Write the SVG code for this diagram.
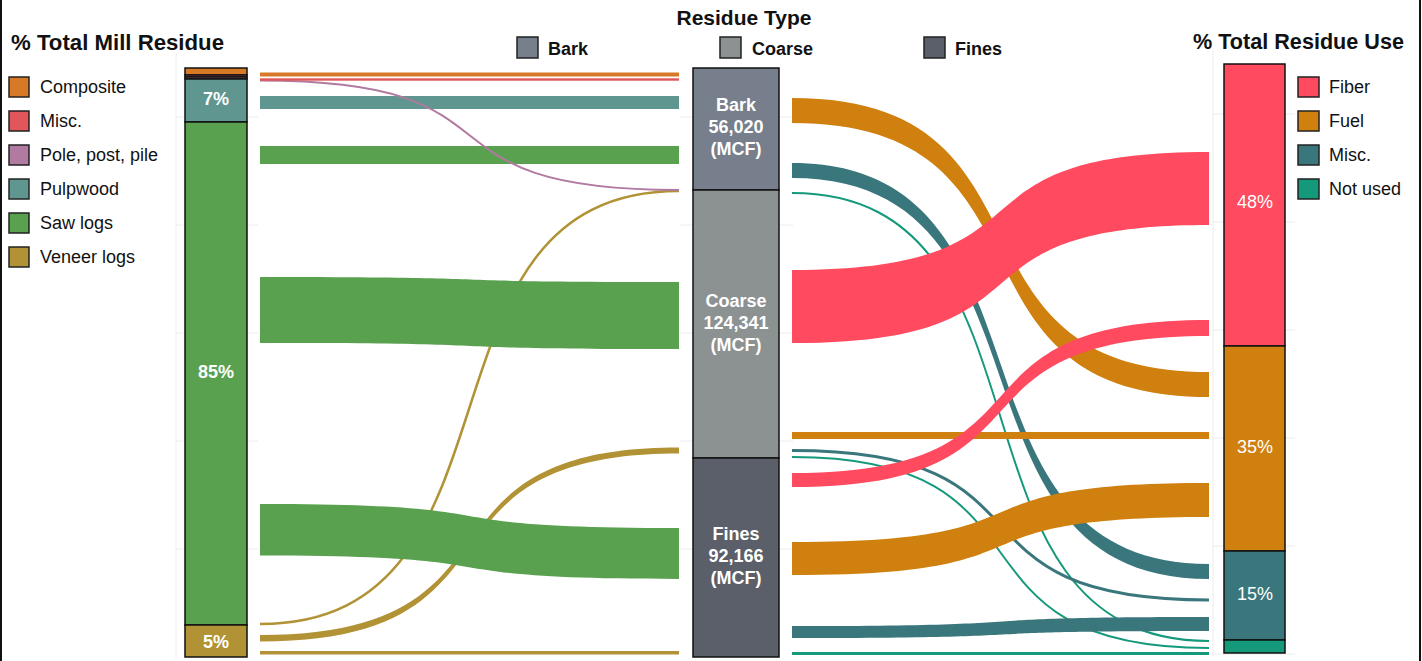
<svg xmlns="http://www.w3.org/2000/svg" width="1422" height="661" viewBox="0 0 1422 661">
<style>
.title{font-family:"Liberation Sans",Arial,sans-serif;font-weight:bold;fill:#111}
.leg{font-family:"Liberation Sans",Arial,sans-serif;font-size:18px;fill:#111}
.legb{font-family:"Liberation Sans",Arial,sans-serif;font-size:18px;font-weight:bold;fill:#111}
.lbl{font-family:"Liberation Sans",Arial,sans-serif;font-size:18px;font-weight:bold;fill:#fff;text-anchor:middle}
.lbln{font-family:"Liberation Sans",Arial,sans-serif;font-size:18px;fill:#fff;text-anchor:middle}
.sw{stroke:#222;stroke-width:1.5}
.seg{stroke:#111;stroke-width:1.5}
.grid{stroke:#ececec;stroke-width:1;fill:none}
.line{fill:none}
</style>
<rect x="0" y="0" width="1422" height="661" fill="#fff"/>
<g id="gridlines">
<line class="grid" x1="176" y1="53" x2="176" y2="658"/>
<line class="grid" x1="176" y1="117" x2="258" y2="117"/>
<line class="grid" x1="176" y1="225" x2="258" y2="225"/>
<line class="grid" x1="176" y1="333" x2="258" y2="333"/>
<line class="grid" x1="176" y1="441" x2="258" y2="441"/>
<line class="grid" x1="176" y1="549" x2="258" y2="549"/>
<line class="grid" x1="680" y1="117" x2="793" y2="117"/>
<line class="grid" x1="680" y1="225" x2="793" y2="225"/>
<line class="grid" x1="680" y1="333" x2="793" y2="333"/>
<line class="grid" x1="680" y1="441" x2="793" y2="441"/>
<line class="grid" x1="680" y1="549" x2="793" y2="549"/>
<line class="grid" x1="1213" y1="50" x2="1213" y2="656"/>
<line class="grid" x1="1213" y1="114" x2="1295" y2="114"/>
<line class="grid" x1="1213" y1="222" x2="1295" y2="222"/>
<line class="grid" x1="1213" y1="330" x2="1295" y2="330"/>
<line class="grid" x1="1213" y1="438" x2="1295" y2="438"/>
<line class="grid" x1="1213" y1="546" x2="1295" y2="546"/>
<line class="grid" x1="1213" y1="654" x2="1295" y2="654"/>
</g>
<g id="frame">
<line x1="1" y1="0" x2="1" y2="661" stroke="#111" stroke-width="2"/>
<line x1="1420" y1="0" x2="1420" y2="661" stroke="#111" stroke-width="2"/>
</g>
<g id="titles">
<text class="title" x="11" y="50" font-size="22" textLength="213" lengthAdjust="spacingAndGlyphs">% Total Mill Residue</text>
<text class="title" x="744" y="25" font-size="21" text-anchor="middle">Residue Type</text>
<text class="title" x="1193" y="49" font-size="21.5" textLength="211" lengthAdjust="spacingAndGlyphs">% Total Residue Use</text>
</g>
<g id="legend-source">
<rect class="sw" x="9" y="77" width="20" height="20" fill="#d77a28"/><text class="leg" x="40" y="93">Composite</text>
<rect class="sw" x="9" y="111" width="20" height="20" fill="#e15759"/><text class="leg" x="40" y="127">Misc.</text>
<rect class="sw" x="9" y="145" width="20" height="20" fill="#b07aa1"/><text class="leg" x="40" y="161">Pole, post, pile</text>
<rect class="sw" x="9" y="179" width="20" height="20" fill="#5f968f"/><text class="leg" x="40" y="195">Pulpwood</text>
<rect class="sw" x="9" y="213" width="20" height="20" fill="#59a14f"/><text class="leg" x="40" y="229">Saw logs</text>
<rect class="sw" x="9" y="247" width="20" height="20" fill="#b19234"/><text class="leg" x="40" y="263">Veneer logs</text>
</g>
<g id="legend-type">
<rect class="sw" x="517" y="37" width="21" height="21" fill="#767f8b"/><text class="legb" x="548" y="55">Bark</text>
<rect class="sw" x="720" y="37" width="21" height="21" fill="#8c9191"/><text class="legb" x="752" y="55">Coarse</text>
<rect class="sw" x="924" y="37" width="21" height="21" fill="#5a5f69"/><text class="legb" x="955" y="55">Fines</text>
</g>
<g id="legend-use">
<rect class="sw" x="1298" y="77" width="21" height="20" fill="#ff4a5f"/><text class="leg" x="1329" y="93">Fiber</text>
<rect class="sw" x="1298" y="111" width="21" height="20" fill="#d0800e"/><text class="leg" x="1329" y="127">Fuel</text>
<rect class="sw" x="1298" y="145" width="21" height="20" fill="#3a777d"/><text class="leg" x="1329" y="161">Misc.</text>
<rect class="sw" x="1298" y="179" width="21" height="20" fill="#14997a"/><text class="leg" x="1329" y="195">Not used</text>
</g>
<g id="connectors">
<g id="flows-left">
<path d="M260,635 C539.3,635 399.7,447.5 679,447.5 L679,453.5 C399.7,453.5 539.3,641.5 260,641.5 Z" fill="#b19234"/>
<path class="line" d="M260,624 C539.3,624 399.7,191 679,191" stroke="#b19234" stroke-width="2.5"/>
<rect x="260" y="651" width="419" height="3.5" fill="#b19234"/>
<rect x="260" y="146" width="419" height="18" fill="#59a14f"/>
<path d="M260,277 C539.3,277 399.7,282 679,282 L679,349 C399.7,349 539.3,343 260,343 Z" fill="#59a14f"/>
<path d="M260,504 C539.3,504 399.7,528 679,528 L679,579 C399.7,579 539.3,555.5 260,555.5 Z" fill="#59a14f"/>
<rect x="260" y="96" width="419" height="13" fill="#5f968f"/>
<path class="line" d="M260,80.5 C539.3,80.5 399.7,190 679,190" stroke="#b07aa1" stroke-width="2"/>
<rect x="260" y="78.3" width="419" height="2.4" fill="#e15759"/>
<rect x="260" y="72.5" width="419" height="4" fill="#d77a28"/>
</g>
<g id="flows-right">
<path class="line" d="M792,193 C1070,193 931,641 1209,641" stroke="#14997a" stroke-width="2"/>
<path class="line" d="M792,457 C1070,457 931,648 1209,648" stroke="#14997a" stroke-width="2"/>
<rect x="792" y="652" width="417" height="3" fill="#14997a"/>
<path d="M792,163 C1070,163 931,564 1209,564 L1209,579 C931,579 1070,178 792,178 Z" fill="#3a777d"/>
<path class="line" d="M792,450.5 C1070,450.5 931,600 1209,600" stroke="#3a777d" stroke-width="3"/>
<path d="M792,626 C1070,626 931,617 1209,617 L1209,631 C931,631 1070,638 792,638 Z" fill="#3a777d"/>
<path d="M792,98 C1070,98 931,372 1209,372 L1209,397 C931,397 1070,123 792,123 Z" fill="#d0800e"/>
<rect x="792" y="432" width="417" height="7" fill="#d0800e"/>
<path d="M792,542 C1070,542 931,483 1209,483 L1209,517 C931,517 1070,575 792,575 Z" fill="#d0800e"/>
<path d="M792,270 C1070,270 931,152 1209,152 L1209,225 C931,225 1070,343 792,343 Z" fill="#ff4a5f"/>
<path d="M792,473 C1070,473 931,320 1209,320 L1209,336 C931,336 1070,487 792,487 Z" fill="#ff4a5f"/>
</g>
</g>
<g id="node-composite"><rect class="seg" x="185" y="68" width="62" height="7" fill="#d77a28"/></g>
<g id="node-misc-src"><rect class="seg" x="185" y="75" width="62" height="2" fill="#e15759"/></g>
<g id="node-pole"><rect class="seg" x="185" y="77" width="62" height="2" fill="#b07aa1"/></g>
<g id="node-pulpwood"><rect class="seg" x="185" y="79" width="62" height="43" fill="#5f968f"/><text class="lbl" x="216" y="105">7%</text></g>
<g id="node-sawlogs"><rect class="seg" x="185" y="122" width="62" height="503" fill="#59a14f"/><text class="lbl" x="216" y="378">85%</text></g>
<g id="node-veneer"><rect class="seg" x="185" y="625" width="62" height="32" fill="#b19234"/><text class="lbl" x="216" y="648">5%</text></g>
<g id="node-bark"><rect class="seg" x="693" y="68" width="86" height="122" fill="#767f8b"/><text class="lbl" x="736" y="111">Bark</text><text class="lbl" x="736" y="133">56,020</text><text class="lbl" x="736" y="155">(MCF)</text></g>
<g id="node-coarse"><rect class="seg" x="693" y="190" width="86" height="268" fill="#8c9191"/><text class="lbl" x="736" y="307">Coarse</text><text class="lbl" x="736" y="329">124,341</text><text class="lbl" x="736" y="351">(MCF)</text></g>
<g id="node-fines"><rect class="seg" x="693" y="458" width="86" height="199" fill="#5a5f69"/><text class="lbl" x="736" y="540">Fines</text><text class="lbl" x="736" y="562">92,166</text><text class="lbl" x="736" y="584">(MCF)</text></g>
<g id="node-fiber"><rect class="seg" x="1224" y="64" width="61" height="282" fill="#ff4a5f"/><text class="lbln" x="1255" y="208">48%</text></g>
<g id="node-fuel"><rect class="seg" x="1224" y="346" width="61" height="205" fill="#d0800e"/><text class="lbln" x="1255" y="453">35%</text></g>
<g id="node-misc-use"><rect class="seg" x="1224" y="551" width="61" height="89" fill="#3a777d"/><text class="lbln" x="1255" y="600">15%</text></g>
<g id="node-notused"><rect class="seg" x="1224" y="640" width="61" height="13" fill="#14997a"/></g>
</svg>
